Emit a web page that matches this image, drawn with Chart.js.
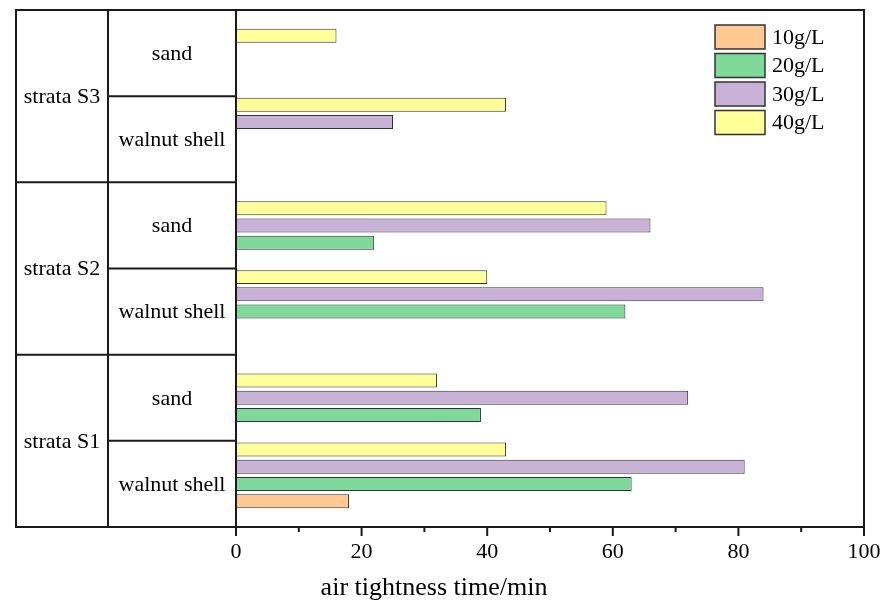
<!DOCTYPE html>
<html>
<head>
<meta charset="utf-8">
<script src="https://cdn.jsdelivr.net/npm/chart.js@4.4.0/dist/chart.umd.min.js"></script>
<style>
  html, body { margin: 0; padding: 0; background: #fff; }
</style>
</head>
<body>
<canvas id="chart" width="883" height="601"></canvas>
<script>
// rows from bottom to top: S1 walnut, S1 sand, S2 walnut, S2 sand, S3 walnut, S3 sand
const strata = ["strata S1", "strata S2", "strata S3"];
const materials = ["walnut shell", "sand"];
const seriesLabels = ["10g/L", "20g/L", "30g/L", "40g/L"];
const seriesColors = ["#FFC993", "#7FD99B", "#C8B3D7", "#FFFF99"];

// air tightness time/min
const conc10 = [18, null, null, null, null, null];
const conc20 = [63, 39, 62, 22, null, null];
const conc30 = [81, 72, 84, 66, 25, null];
const conc40 = [43, 32, 40, 59, 43, 16];
const xTicks = [0, 20, 40, 60, 80, 100];

const FONT = "'Liberation Serif', 'Times New Roman', serif";

// each stratum takes 5 units on the y axis, its two rows sit at 1.5 and 3.5
function rowPos(i) {
  return 5 * Math.floor(i / 2) + 1.5 + 2 * (i % 2);
}

const allSeries = [conc10, conc20, conc30, conc40];
const datasets = allSeries.map((vals, s) => ({
  label: seriesLabels[s],
  data: vals.map((v, i) => ({ x: v, y: rowPos(i) })),
  backgroundColor: seriesColors[s],
  borderColor: "#333",
  borderWidth: 1,
  borderSkipped: false,
  order: 4 - s, // 10g/L at the bottom of each group
  categoryPercentage: 1.0,
  barPercentage: 0.81
}));

const tablePlugin = {
  id: "tablePlugin",
  afterDraw(chart) {
    const { ctx, chartArea: a, scales: { x, y } } = chart;
    const left = 16, col = 108;
    ctx.save();
    ctx.strokeStyle = "#1a1a1a";
    ctx.lineWidth = 2;
    ctx.beginPath();
    ctx.rect(left, a.top, a.right - left, a.bottom - a.top);
    ctx.moveTo(col, a.top); ctx.lineTo(col, a.bottom);
    ctx.moveTo(a.left, a.top); ctx.lineTo(a.left, a.bottom);
    // stratum and material borders
    for (let s = 1; s < strata.length; s++) {
      const py = y.getPixelForValue(5 * s);
      ctx.moveTo(left, py); ctx.lineTo(a.left, py);
    }
    for (let s = 0; s < strata.length; s++) {
      const py = y.getPixelForValue(5 * s + 2.5);
      ctx.moveTo(col, py); ctx.lineTo(a.left, py);
    }
    // x ticks
    x.ticks.forEach(t => {
      const px = x.getPixelForValue(t.value);
      const len = xTicks.includes(t.value) ? 9 : 5;
      ctx.moveTo(px, a.bottom); ctx.lineTo(px, a.bottom + len);
    });
    ctx.stroke();

    // table texts
    ctx.fillStyle = "#000";
    ctx.font = "22px " + FONT;
    ctx.textAlign = "center";
    ctx.textBaseline = "middle";
    strata.forEach((name, s) => {
      const py = (y.getPixelForValue(5 * s) + y.getPixelForValue(5 * s + 5)) / 2;
      ctx.fillText(name, (left + col) / 2, py + 1);
      materials.forEach((m, k) => {
        const my = (y.getPixelForValue(5 * s + 2.5 * k) + y.getPixelForValue(5 * s + 2.5 * k + 2.5)) / 2;
        ctx.fillText(m, (col + a.left) / 2, my + 1);
      });
    });

    // legend
    ctx.textAlign = "left";
    seriesLabels.forEach((lab, s) => {
      const top = a.top + 15 + s * 28.5;
      ctx.fillStyle = seriesColors[s];
      ctx.fillRect(a.right - 149, top, 50, 24);
      ctx.lineWidth = 1.5;
      ctx.strokeStyle = "#333";
      ctx.strokeRect(a.right - 149, top, 50, 24);
      ctx.fillStyle = "#000";
      ctx.fillText(lab, a.right - 92, top + 13);
    });

    // axis title
    ctx.textAlign = "center";
    ctx.textBaseline = "alphabetic";
    ctx.font = "26px " + FONT;
    ctx.fillText("air tightness time/min", 434, 595);
    ctx.restore();
  }
};

new Chart(document.getElementById("chart"), {
  type: "bar",
  data: { datasets },
  options: {
    indexAxis: "y",
    responsive: false,
    animation: false,
    layout: { padding: { left: 236, right: 19, top: 10, bottom: 0 } },
    plugins: { legend: { display: false }, tooltip: { enabled: false } },
    scales: {
      x: {
        type: "linear",
        min: 0,
        max: 100,
        grid: { display: false, drawTicks: false },
        border: { display: false },
        ticks: {
          stepSize: 10,
          padding: 12,
          color: "#000",
          font: { family: FONT, size: 22 },
          maxRotation: 0,
          autoSkip: false,
          callback: v => (xTicks.includes(v) ? String(v) : "")
        },
        afterFit: scale => {
          scale.height = 74;
          scale.paddingLeft = 0;
          scale.paddingRight = 0;
        }
      },
      y: {
        type: "linear",
        display: false,
        offset: false,
        min: 0,
        max: 15,
        grid: { offset: false },
        ticks: { stepSize: 5 }
      }
    }
  },
  plugins: [tablePlugin]
});
</script>
</body>
</html>
